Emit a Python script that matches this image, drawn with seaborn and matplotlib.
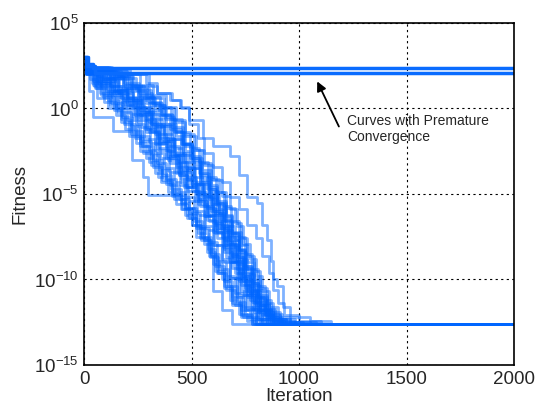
import numpy as np
import pandas as pd
import matplotlib
matplotlib.use('Agg')
import matplotlib.pyplot as plt
import seaborn as sns
from matplotlib.ticker import NullLocator

# Iteracoes onde cada execucao melhora (degraus) e log10 do fitness nesse ponto
run_iters = [
    [0, 8, 25, 42, 135, 222, 274, 298, 470, 520, 560, 592, 600, 640, 690],
    [0, 12, 40, 80, 120, 170, 210, 260, 300, 345, 390, 430, 480, 520, 570, 610, 650, 690, 730, 780],
    [0, 10, 55, 95, 150, 190, 240, 290, 330, 380, 420, 470, 520, 560, 600, 640, 680, 720, 760, 800],
    [0, 15, 70, 130, 180, 240, 280, 330, 370, 420, 470, 510, 560, 600, 640, 680, 710, 750, 800, 840],
    [0, 10, 90, 150, 200, 250, 300, 350, 400, 450, 500, 540, 580, 620, 660, 700, 730, 770, 810, 850],
    [0, 20, 60, 140, 210, 260, 310, 350, 400, 440, 480, 530, 570, 620, 650, 690, 720, 760, 790, 830, 870],
    [0, 10, 100, 160, 230, 280, 320, 370, 420, 460, 500, 550, 590, 630, 670, 700, 740, 770, 810, 850, 890],
    [0, 15, 80, 170, 240, 300, 340, 390, 430, 480, 520, 570, 610, 650, 690, 720, 750, 790, 830, 880],
    [0, 10, 120, 190, 250, 300, 350, 400, 450, 490, 540, 580, 620, 650, 690, 720, 750, 780, 820, 860, 900],
    [0, 12, 60, 130, 200, 270, 320, 370, 420, 460, 510, 550, 590, 630, 670, 700, 740, 770, 800, 840, 880, 920],
    [0, 10, 110, 210, 280, 330, 380, 430, 470, 510, 550, 590, 630, 660, 700, 730, 760, 790, 820, 860, 900, 950],
    [0, 10, 140, 220, 290, 350, 400, 450, 500, 540, 580, 620, 660, 690, 720, 750, 780, 810, 840, 880, 930],
    [0, 10, 200, 260, 320, 380, 430, 470, 510, 550, 590, 630, 660, 700, 730, 760, 790, 820, 850, 880, 920, 980],
    [0, 10, 215, 300, 340, 410, 450, 490, 530, 560, 600, 640, 680, 720, 760, 800, 830, 860, 880, 900, 930, 1000, 1100],
    [0, 12, 200, 290, 340, 400, 446, 490, 553, 600, 679, 720, 757, 805, 830, 850, 870, 880, 897, 925, 960, 1050, 1150],
    [0, 10, 50, 110, 160, 220, 260, 310, 350, 400, 440, 490, 540, 580, 620, 660, 700, 740, 780, 830],
    [0, 10, 80, 140, 190, 230, 290, 340, 390, 440, 480, 530, 570, 610, 650, 690, 730, 770, 810, 860],
    [0, 10, 130, 180, 260, 310, 360, 410, 460, 500, 540, 580, 610, 650, 680, 710, 740, 780, 820, 870, 920],
    [0, 10, 70, 120, 180, 250, 310, 360, 410, 450, 500, 560, 600, 640, 670, 710, 740, 770, 810, 850, 900],
    [0, 10, 100, 180, 250, 320, 370, 420, 460, 500, 540, 570, 610, 650, 680, 720, 750, 780, 810, 850, 890, 940],
    [0, 10, 40, 100, 150, 200, 250, 300, 340, 380, 430, 470, 510, 550, 590, 630, 670, 710, 750, 800],
    [0, 15, 90, 160, 230, 290, 330, 380, 440, 480, 520, 560, 600, 640, 680, 710, 750, 780, 820, 870],
    [0, 10, 150, 230, 300, 360, 410, 460, 500, 550, 590, 620, 660, 690, 730, 760, 790, 820, 850, 890, 960],
    [0, 10, 60, 120, 200, 260, 310, 370, 420, 470, 510, 560, 600, 640, 680, 720, 750, 790, 830, 860, 910, 1000],
    [0, 10, 30, 60, 110, 170, 220, 260, 310, 360, 410, 450, 500, 540, 580, 620, 650, 690, 730, 780],
    [0, 10, 170, 240, 310, 370, 420, 470, 520, 560, 600, 640, 680, 710, 740, 770, 800, 830, 860, 900, 960, 1050],
    [0, 10, 45, 90, 140, 185, 235, 275, 320, 365, 410, 455, 500, 545, 585, 625, 660, 700, 740, 790],
    [0, 12, 75, 125, 195, 245, 295, 345, 385, 435, 475, 525, 565, 605, 645, 680, 715, 755, 795, 845, 890],
    [0, 10, 95, 165, 225, 275, 335, 385, 425, 475, 515, 555, 595, 635, 665, 705, 735, 765, 800, 840, 880, 930],
    [0, 10, 120, 200, 265, 325, 375, 425, 465, 505, 545, 585, 625, 655, 690, 720, 755, 785, 815, 845, 880, 940, 1020],
    [0, 8, 35, 75, 125, 175, 225, 270, 320, 365, 405, 450, 490, 530, 575, 610, 650, 690, 730, 770, 820],
    [0, 10, 110, 185, 255, 315, 365, 415, 455, 495, 535, 575, 615, 645, 685, 715, 745, 775, 805, 835, 870, 910, 980],
    [0, 10, 65, 115, 175, 235, 285, 330, 380, 430, 465, 515, 560, 600, 640, 675, 710, 745, 780, 820, 865],
    [0, 12, 160, 225, 295, 355, 405, 455, 495, 535, 575, 615, 650, 685, 720, 750, 780, 810, 840, 870, 910, 980, 1080],
    [0, 10, 85, 145, 205, 265, 315, 355, 405, 445, 495, 535, 575, 615, 655, 695, 725, 760, 800, 835, 880],
    [0, 10, 55, 100, 165, 215, 265, 305, 355, 395, 445, 485, 525, 565, 605, 640, 680, 720, 760, 805, 850],
]
run_logfit = [
    [3.0, 2.1, 1.0, -0.5, -1.3, -3.0, -4.0, -5.05, -5.8, -6.9, -7.7, -8.6, -10.7, -11.8, -12.6],
    [3.0, 2.3, 1.6, 0.8, 0.2, -0.6, -1.6, -2.2, -3.1, -4.0, -4.9, -5.6, -6.4, -7.5, -8.4, -9.5, -10.4, -11.5, -12.2, -12.6],
    [3.0, 2.0, 1.2, 0.4, -0.4, -1.2, -2.0, -2.9, -3.8, -4.4, -5.3, -6.2, -7.0, -7.9, -9.1, -10.0, -11.2, -12.0, -12.4, -12.6],
    [3.0, 2.2, 1.4, 0.7, 0.0, -0.9, -1.8, -2.6, -3.5, -4.3, -5.2, -6.0, -6.9, -8.0, -8.8, -9.9, -11.0, -11.8, -12.4, -12.6],
    [3.0, 2.3, 1.6, 0.9, 0.2, -0.7, -1.4, -2.4, -3.2, -4.1, -4.8, -5.7, -6.6, -7.6, -8.7, -9.6, -10.7, -11.6, -12.3, -12.6],
    [3.0, 2.1, 1.8, 1.0, 0.4, -0.4, -1.3, -2.0, -2.9, -3.9, -4.6, -5.4, -6.2, -7.2, -8.2, -9.0, -10.1, -11.0, -11.9, -12.4, -12.6],
    [3.0, 2.2, 1.7, 1.1, 0.3, -0.2, -1.1, -1.9, -2.7, -3.6, -4.5, -5.1, -6.0, -7.0, -7.8, -8.9, -9.8, -10.8, -11.7, -12.3, -12.6],
    [3.0, 2.0, 1.3, 0.6, 0.0, -0.8, -1.7, -2.5, -3.4, -4.2, -5.0, -5.8, -6.8, -7.7, -8.6, -9.6, -10.5, -11.4, -12.1, -12.6],
    [3.0, 2.4, 1.8, 1.2, 0.5, -0.3, -0.9, -1.8, -2.6, -3.5, -4.3, -5.2, -6.1, -7.1, -8.0, -9.0, -10.0, -10.9, -11.8, -12.3, -12.6],
    [3.0, 2.1, 1.5, 1.1, 0.7, 0.1, -0.6, -1.5, -2.3, -3.1, -4.0, -4.9, -5.6, -6.6, -7.5, -8.5, -9.4, -10.4, -11.3, -12.0, -12.4, -12.6],
    [3.0, 2.3, 1.9, 1.3, 0.6, 0.0, -0.9, -1.6, -2.5, -3.3, -4.2, -5.0, -5.9, -6.9, -7.7, -8.8, -9.7, -10.7, -11.5, -12.2, -12.5, -12.6],
    [3.0, 2.2, 1.7, 1.0, 0.3, -0.4, -1.2, -2.1, -2.8, -3.8, -4.6, -5.5, -6.3, -7.3, -8.3, -9.2, -10.2, -11.1, -11.9, -12.4, -12.6],
    [3.0, 2.2, 2.0, 1.4, 0.8, 0.1, -0.8, -1.5, -2.4, -3.2, -4.1, -4.9, -5.8, -6.7, -7.6, -8.6, -9.5, -10.5, -11.4, -12.0, -12.4, -12.6],
    [3.0, 2.3, 2.0, 1.3, 0.9, 0.5, 0.0, -0.9, -1.7, -2.6, -3.4, -4.3, -5.2, -5.9, -6.8, -7.6, -8.6, -9.6, -10.6, -11.4, -12.1, -12.4, -12.6],
    [3.0, 2.2, 2.0, 1.5, 0.9, 0.5, 0.1, -0.7, -1.7, -2.2, -2.8, -3.9, -5.2, -5.5, -6.8, -7.7, -8.9, -10.0, -10.4, -11.6, -12.2, -12.4, -12.6],
    [3.0, 2.1, 1.2, 0.5, -0.2, -1.0, -1.9, -2.7, -3.6, -4.5, -5.3, -6.1, -7.0, -7.8, -8.9, -9.8, -10.8, -11.6, -12.2, -12.6],
    [3.0, 2.2, 1.5, 0.8, 0.2, -0.5, -1.4, -2.3, -3.0, -3.9, -4.8, -5.6, -6.5, -7.3, -8.4, -9.3, -10.3, -11.2, -11.9, -12.6],
    [3.0, 2.4, 1.9, 1.2, 0.6, -0.1, -1.0, -1.8, -2.7, -3.5, -4.4, -5.3, -6.2, -7.2, -8.1, -9.1, -10.1, -11.0, -11.8, -12.4, -12.6],
    [3.0, 2.1, 1.6, 0.9, 0.5, -0.2, -0.9, -1.9, -2.8, -3.7, -4.4, -5.0, -6.0, -6.8, -7.9, -8.7, -9.8, -10.6, -11.5, -12.2, -12.6],
    [3.0, 2.3, 1.8, 1.4, 0.8, 0.2, -0.5, -1.4, -2.1, -3.0, -3.9, -4.7, -5.6, -6.4, -7.4, -8.2, -9.3, -10.2, -11.0, -11.8, -12.3, -12.6],
    [3.0, 2.0, 1.4, 0.8, 0.0, -0.7, -1.6, -2.4, -3.2, -4.1, -4.9, -5.8, -6.6, -7.5, -8.5, -9.4, -10.4, -11.3, -12.0, -12.6],
    [3.0, 2.2, 1.6, 0.9, 0.1, -0.6, -1.5, -2.2, -3.1, -4.0, -4.9, -5.7, -6.7, -7.5, -8.5, -9.4, -10.3, -11.3, -12.0, -12.6],
    [3.0, 2.2, 1.9, 1.2, 0.4, -0.3, -1.1, -2.0, -2.9, -3.6, -4.5, -5.4, -6.2, -7.2, -8.0, -9.0, -10.0, -10.9, -11.7, -12.3, -12.6],
    [3.0, 2.3, 1.9, 1.3, 0.6, -0.1, -0.9, -1.7, -2.6, -3.4, -4.3, -5.1, -5.9, -6.9, -7.7, -8.7, -9.6, -10.6, -11.4, -12.1, -12.5, -12.6],
    [3.0, 2.2, 1.7, 0.6, 0.0, -0.8, -1.5, -2.5, -3.3, -4.3, -5.0, -5.9, -6.8, -7.6, -8.6, -9.6, -10.5, -11.4, -12.1, -12.6],
    [3.0, 2.2, 1.8, 1.1, 0.6, 0.0, -0.7, -1.6, -2.4, -3.3, -4.2, -5.1, -5.9, -6.9, -7.9, -8.8, -9.8, -10.7, -11.6, -12.2, -12.5, -12.6],
    [3.0, 2.1, 1.3, 0.7, -0.1, -0.9, -1.7, -2.6, -3.4, -4.2, -5.1, -5.9, -6.8, -7.7, -8.7, -9.6, -10.6, -11.5, -12.2, -12.6],
    [3.0, 2.2, 1.7, 1.0, 0.4, -0.3, -1.2, -2.0, -2.8, -3.7, -4.6, -5.3, -6.3, -7.1, -8.1, -9.0, -9.9, -10.9, -11.8, -12.3, -12.6],
    [3.0, 2.3, 1.8, 1.2, 0.5, -0.2, -1.0, -1.8, -2.7, -3.5, -4.4, -5.2, -6.1, -7.0, -7.9, -8.8, -9.8, -10.7, -11.5, -12.1, -12.4, -12.6],
    [3.0, 2.2, 1.9, 1.4, 0.7, 0.2, -0.6, -1.4, -2.2, -3.1, -4.0, -4.8, -5.7, -6.6, -7.5, -8.4, -9.4, -10.3, -11.2, -11.9, -12.3, -12.5, -12.6],
    [3.0, 2.0, 1.5, 0.9, 0.3, -0.5, -1.3, -2.2, -3.0, -3.9, -4.7, -5.5, -6.4, -7.3, -8.2, -9.2, -10.1, -11.0, -11.8, -12.3, -12.6],
    [3.0, 2.4, 2.0, 1.5, 0.9, 0.3, -0.4, -1.3, -2.1, -2.9, -3.8, -4.7, -5.5, -6.5, -7.3, -8.3, -9.2, -10.1, -11.0, -11.7, -12.2, -12.5, -12.6],
    [3.0, 2.1, 1.5, 0.9, 0.2, -0.4, -1.2, -2.1, -2.9, -3.8, -4.6, -5.4, -6.3, -7.2, -8.0, -9.0, -10.0, -10.9, -11.7, -12.3, -12.6],
    [3.0, 2.2, 1.9, 1.3, 0.7, 0.1, -0.6, -1.4, -2.3, -3.1, -4.0, -4.9, -5.7, -6.6, -7.5, -8.5, -9.4, -10.4, -11.2, -11.9, -12.3, -12.5, -12.6],
    [3.0, 2.3, 1.7, 1.1, 0.5, -0.3, -1.0, -1.9, -2.7, -3.6, -4.4, -5.3, -6.2, -7.0, -8.0, -8.9, -9.9, -10.8, -11.6, -12.2, -12.6],
    [3.0, 2.2, 1.6, 1.0, 0.4, -0.3, -1.1, -2.0, -2.9, -3.7, -4.5, -5.4, -6.2, -7.1, -8.0, -9.0, -9.9, -10.9, -11.7, -12.3, -12.6],
]

# Execucoes com convergencia prematura
stuck_iters = [[0, 20, 40], [0, 15, 50]]
stuck_logfit = [[3.0, 2.6, 2.39], [3.0, 2.5, 2.09]]

max_iter = 2000


def build_df(iters, logfit):
    rows = []
    for k, (its, lf) in enumerate(zip(iters, logfit)):
        its = list(its) + [max_iter]
        lf = list(lf) + [lf[-1]]
        for i, v in zip(its, lf):
            rows.append((k, i, 10.0 ** v))
    return pd.DataFrame(rows, columns=['run', 'iteration', 'fitness'])


df_runs = build_df(run_iters, run_logfit)
df_stuck = build_df(stuck_iters, stuck_logfit)

sns.set_style('white')
plt.rcParams['font.family'] = ['Liberation Sans', 'DejaVu Sans']
plt.rcParams['mathtext.fontset'] = 'custom'
plt.rcParams['mathtext.rm'] = 'Liberation Sans'

fig = plt.figure(figsize=(5.4, 4.15), dpi=100)
ax = fig.add_axes([0.1556, 0.1205, 0.7963, 0.8241])

sns.lineplot(data=df_runs, x='iteration', y='fitness', units='run', estimator=None,
             drawstyle='steps-post', color='#0066ff', alpha=0.5, lw=2, ax=ax)
sns.lineplot(data=df_stuck, x='iteration', y='fitness', units='run', estimator=None,
             drawstyle='steps-post', color='#0a6cff', alpha=1.0, lw=2.5, ax=ax)

ax.set_yscale('log')
ax.set_xlim(0, 2000)
ax.set_ylim(1e-15, 1e5)
ax.set_xticks([0, 500, 1000, 1500, 2000])
ax.set_yticks([1e-15, 1e-10, 1e-5, 1e0, 1e5])
ax.yaxis.set_minor_locator(NullLocator())
ax.tick_params(length=0, labelsize=13.5, pad=4)
ax.grid(True, which='major', linestyle=(0, (2, 3)), color='k', lw=0.8)
for s in ax.spines.values():
    s.set_color('k')
    s.set_linewidth(1.2)

ax.set_xlabel('Iteration', fontsize=13.5, labelpad=0)
ax.set_ylabel('Fitness', fontsize=13.5, labelpad=4)

ax.annotate('', xy=(1079, 10 ** 1.73), xytext=(1191, 10 ** -1.2),
            arrowprops=dict(arrowstyle='-|>', color='k', lw=1.3, mutation_scale=14))
ax.text(1223, 10 ** -1.2, 'Curves with Premature\nConvergence', fontsize=10,
        ha='left', va='center', linespacing=1.2)

fig.savefig('out.png', dpi=100)
